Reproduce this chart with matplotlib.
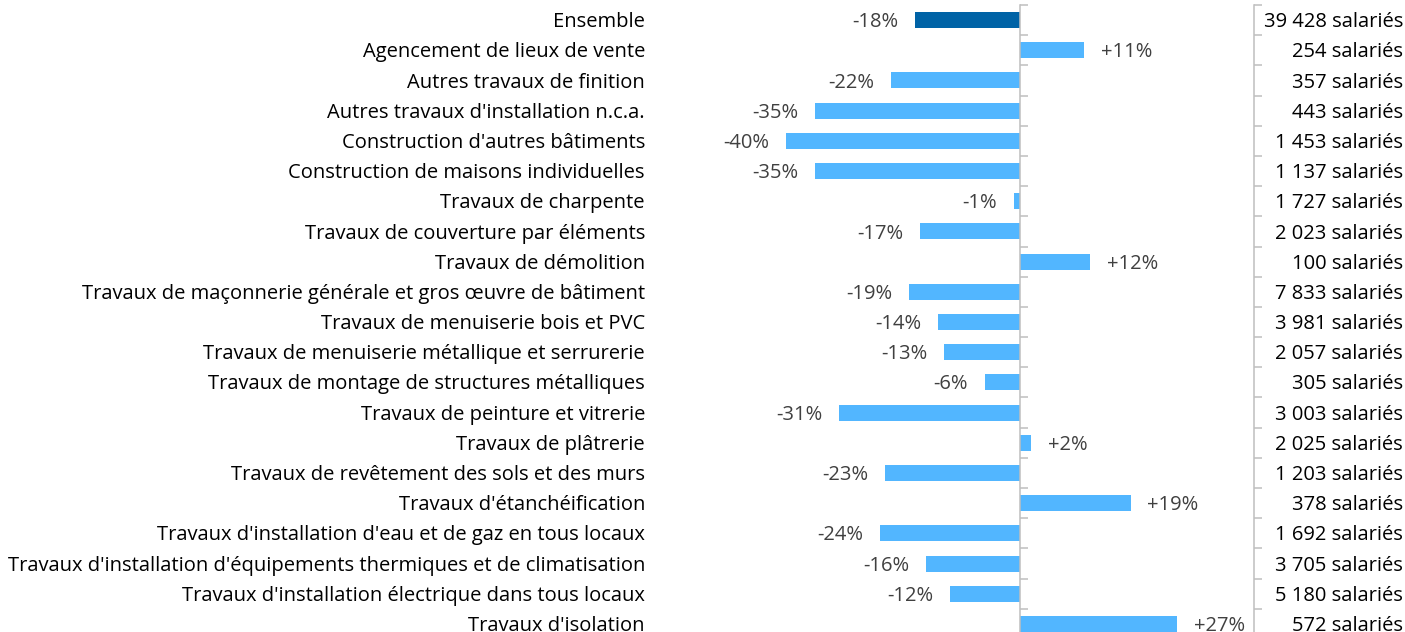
import numpy as np
import matplotlib.pyplot as plt
from matplotlib.transforms import blended_transform_factory, offset_copy

plt.rcParams['font.family'] = ['Open Sans', 'DejaVu Sans']

categories = [
    "Ensemble",
    "Agencement de lieux de vente",
    "Autres travaux de finition",
    "Autres travaux d'installation n.c.a.",
    "Construction d'autres bâtiments",
    "Construction de maisons individuelles",
    "Travaux de charpente",
    "Travaux de couverture par éléments",
    "Travaux de démolition",
    "Travaux de maçonnerie générale et gros œuvre de bâtiment",
    "Travaux de menuiserie bois et PVC",
    "Travaux de menuiserie métallique et serrurerie",
    "Travaux de montage de structures métalliques",
    "Travaux de peinture et vitrerie",
    "Travaux de plâtrerie",
    "Travaux de revêtement des sols et des murs",
    "Travaux d'étanchéification",
    "Travaux d'installation d'eau et de gaz en tous locaux",
    "Travaux d'installation d'équipements thermiques et de climatisation",
    "Travaux d'installation électrique dans tous locaux",
    "Travaux d'isolation",
]
evolution = [-18, 11, -22, -35, -40, -35, -1, -17, 12, -19, -14, -13, -6, -31, 2, -23, 19, -24, -16, -12, 27]
salaries = [39428, 254, 357, 443, 1453, 1137, 1727, 2023, 100, 7833, 3981, 2057,
            305, 3003, 2025, 1203, 378, 1692, 3705, 5180, 572]

n = len(categories)
y = np.arange(n)
gray = "#BFBFBF"

W, H = 1405, 632
fig = plt.figure(figsize=(W / 100, H / 100), dpi=100)
# axes placed in pixels: x from 660 to 1254, rows from y=5 to y=639
ax = fig.add_axes([660 / W, (H - 639) / H, (1254 - 660) / W, (639 - 5) / H])

colors = ["#0063A6"] + ["#52B6FF"] * (n - 1)
ax.barh(y, evolution, height=0.53, color=colors)
ax.set_xlim(-61.6, 40.1)
ax.set_ylim(n - 0.5, -0.5)

for s in ["top", "bottom", "right"]:
    ax.spines[s].set_visible(False)
ax.spines["left"].set_position(("data", 0))
ax.spines["left"].set_color(gray)
ax.spines["left"].set_linewidth(1.1)
ax.set_xticks([])
ax.set_yticks(np.arange(n + 1) - 0.5)
ax.set_yticklabels([])
ax.tick_params(axis="y", direction="in", length=5.5, color=gray, width=1.1)

# percentage labels
for i, v in enumerate(evolution):
    off = 12 if v > 0 else -12
    ax.annotate(f"{v:+d}%", xy=(v, i), xytext=(off, -1.5), textcoords="offset points",
                ha="left" if v > 0 else "right", va="center", fontsize=14.5, color="#404040")

# right axis with headcounts
ax2 = ax.twinx()
ax2.set_ylim(ax.get_ylim())
for s in ["top", "bottom", "left"]:
    ax2.spines[s].set_visible(False)
ax2.spines["right"].set_color(gray)
ax2.spines["right"].set_linewidth(1.1)
ax2.set_yticks(np.arange(n + 1) - 0.5)
ax2.set_yticklabels([])
ax2.tick_params(axis="y", direction="out", length=5.5, color=gray, width=1.1)

tr = blended_transform_factory(fig.transFigure, ax.transData)
tr = offset_copy(tr, fig=fig, x=0, y=-1.5, units="points")
for i, (c, s) in enumerate(zip(categories, salaries)):
    ax.text(645 / W, i, c, transform=tr, ha="right", va="center", fontsize=14.5, color="black")
    lab = f"{s:,}".replace(",", " ") + " salariés"
    ax.text(1403 / W, i, lab, transform=tr, ha="right", va="center", fontsize=14.5, color="black")

fig.savefig("out.png", dpi=100)
